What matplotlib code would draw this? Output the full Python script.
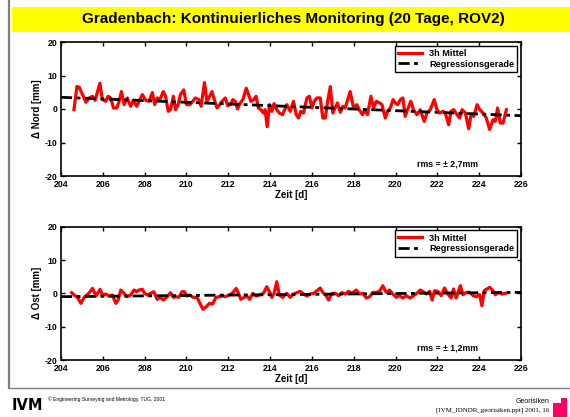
import matplotlib
matplotlib.use("Agg")
import matplotlib.pyplot as plt
from matplotlib.patches import Rectangle
from matplotlib.lines import Line2D

plt.rcParams['font.family'] = ['Liberation Sans', 'DejaVu Sans']
plt.rcParams['font.weight'] = 'bold'
plt.rcParams['axes.unicode_minus'] = False

# ---------------- data ----------------
nord_days = [204.62, 204.76, 204.87, 205.03, 205.19, 205.35, 205.51, 205.63, 205.86, 205.98,
             206.14, 206.25, 206.38, 206.51, 206.67, 206.78, 206.89, 207.02, 207.17, 207.33,
             207.46, 207.62, 207.73, 207.89, 208.05, 208.21, 208.37, 208.48, 208.60, 208.73,
             208.89, 209.0, 209.13, 209.24, 209.37, 209.48, 209.60, 209.71, 209.87, 210.0,
             210.16, 210.30, 210.43, 210.59, 210.70, 210.86, 210.98, 211.11, 211.22, 211.33,
             211.46, 211.59, 211.70, 211.86, 211.97, 212.10, 212.22, 212.33, 212.44, 212.57,
             212.70, 212.86, 212.97, 213.08, 213.21, 213.33, 213.44, 213.56, 213.68, 213.76,
             213.86, 213.97, 214.08, 214.19, 214.32, 214.44, 214.60,
             214.64, 214.80, 214.96, 215.12, 215.25, 215.36, 215.47, 215.60, 215.76, 215.88,
             216.0, 216.11, 216.24, 216.40, 216.52, 216.64, 216.75, 216.88, 217.0, 217.11,
             217.22, 217.36, 217.48, 217.59, 217.83, 217.99, 218.15, 218.26, 218.42, 218.53,
             218.66, 218.82, 218.95, 219.08, 219.24, 219.35, 219.51, 219.62, 219.75, 219.88,
             219.99, 220.10, 220.23, 220.35, 220.46, 220.57, 220.73, 220.86, 221.02, 221.18,
             221.37, 221.50, 221.66, 221.85, 221.98, 222.11, 222.27, 222.38, 222.54, 222.65,
             222.78, 222.94, 223.07, 223.18, 223.34, 223.50, 223.61, 223.74, 223.90, 224.03,
             224.18, 224.34, 224.50, 224.66, 224.77, 224.88, 225.01, 225.14, 225.30]
nord_vals = [-0.2, 6.7, 6.5, 4.3, 2.0, 3.3, 3.8, 2.6, 7.7, 2.8,
             2.3, 3.8, 3.3, 0.3, 0.3, 2.3, 5.2, 1.3, 3.3, 0.8,
             2.6, 0.8, 2.3, 4.3, 2.6, 2.3, 4.9, 1.3, 3.3, 2.8,
             5.2, 3.8, -0.7, -0.2, 3.8, -0.2, 1.3, 4.3, 5.7, 1.3,
             1.3, 2.3, 3.3, 2.8, 0.8, 7.9, 2.3, 3.8, 5.2, 2.8,
             0.3, 1.3, 2.3, 3.3, 1.0, 1.3, 2.8, 2.3, 0.0, 1.8,
             2.8, 6.2, 4.3, 2.3, 2.8, 3.8, 0.3, -0.2, -1.2, -0.2,
             -5.3, 1.3, -0.7, 1.6, -0.2, -1.2, -1.7,
             -1.0, 1.3, -0.7, 2.3, -1.7, -2.7, -0.7, -1.2, 3.3, 3.8,
             0.3, 2.3, 3.3, 3.3, -2.7, -2.7, 2.3, 6.7, -1.2, 0.3,
             1.8, -1.0, 0.8, 0.3, 5.2, 0.3, 1.3, -0.2, -1.7, -0.2,
             -1.7, 3.8, 0.3, 2.3, 1.8, 1.3, -2.7, -0.7, 0.3, 2.8,
             1.8, 1.3, 2.8, 3.3, -2.2, -0.2, 2.3, -0.2, -1.7, -0.2,
             -3.7, -1.2, -0.2, 2.8, -0.2, -1.2, -0.7, -1.2, -4.7, -0.7,
             -0.2, -1.7, -2.7, -0.2, -1.2, -5.9, -1.7, -2.2, 1.3, -0.2,
             -1.2, -2.7, -6.1, -3.2, -3.7, 0.3, -4.2, -4.2, -0.2]

ost_days = [204.51, 204.63, 204.79, 204.95, 205.11, 205.24, 205.35, 205.51, 205.67, 205.87,
            205.98, 206.14, 206.30, 206.46, 206.62, 206.73, 206.86, 207.02, 207.14, 207.33,
            207.49, 207.62, 207.73, 207.89, 208.0, 208.13, 208.29, 208.44, 208.60, 208.73,
            208.89, 209.08, 209.24, 209.37, 209.52, 209.63, 209.79, 209.90, 210.03, 210.16,
            210.32, 210.51, 210.63, 210.79, 210.95, 211.10, 211.25, 211.41, 211.56, 211.71,
            211.87, 212.03, 212.19, 212.38, 212.49, 212.60, 212.76, 212.89, 213.02, 213.17,
            213.33, 213.49, 213.68, 213.84, 213.97, 214.08, 214.19, 214.32, 214.44,
            214.60, 214.80, 214.96, 215.12, 215.28, 215.44, 215.60, 215.76, 215.92,
            216.08, 216.24, 216.40, 216.52, 216.68, 216.80, 216.96, 217.12, 217.28, 217.44,
            217.59, 217.75, 217.91, 218.12, 218.28, 218.44, 218.60, 218.76, 218.92, 219.10,
            219.26, 219.39, 219.55, 219.71, 219.87, 220.03, 220.19, 220.35, 220.51, 220.70,
            220.86, 221.02, 221.18, 221.31, 221.47, 221.63, 221.75, 221.86, 222.02, 222.18,
            222.34, 222.50, 222.66, 222.77, 222.90, 223.10, 223.23, 223.39, 223.55, 223.71,
            223.87, 224.02, 224.13, 224.24, 224.37, 224.50, 224.66, 224.77, 224.93, 225.09,
            225.25]
ost_vals = [0.2, -0.5, -1.2, -3.0, -1.2, -0.5, 0.2, 1.5, -0.8, 1.2,
            -0.5, -0.2, -0.8, -0.5, -3.0, -2.0, 1.0, 0.0, -1.0, -0.5,
            1.0, 0.5, 1.0, 1.2, 0.0, -0.5, 0.0, 0.5, -1.8, -1.2,
            -2.0, -1.0, 0.2, -1.2, -1.0, -1.2, 0.5, 0.5, -0.8, -0.5,
            -1.2, -1.2, -2.8, -4.8, -4.0, -3.0, -3.2, -1.2, -1.0, -0.8,
            -1.0, -0.5, 0.0, 1.5, 0.0, -1.8, -1.2, -0.8, -1.8, 0.0,
            -0.8, -0.5, 0.0, 2.0, 0.5, -1.2, 0.0, 3.5, -0.5,
            -1.2, 0.0, -1.2, -0.2, 0.2, 0.6, -0.2, -0.8, -0.2,
            0.0, 0.8, 1.6, 0.3, -0.7, -2.0, 0.0, 0.0, -0.7, 0.2,
            -0.2, 0.6, 0.0, 1.0, -0.2, 0.0, -1.4, -1.0, 0.3, 0.3,
            0.8, 2.3, 0.3, 1.0, -0.2, -1.2, -0.7, -1.4, -0.7, -1.4,
            -0.7, 0.0, 1.0, 0.6, -0.2, 0.6, -2.0, 0.8, 0.6, -0.7,
            1.6, -0.2, -1.4, 1.3, -1.4, 2.3, -0.4, 0.3, 0.3, -0.7,
            -1.0, -0.4, -3.7, 0.8, 1.3, 1.8, 0.8, -0.4, 0.3, -0.2,
            0.0]

reg_days = [204.0, 226.0]
nord_reg = [3.5, -2.0]
ost_reg = [-1.0, 0.3]

x_ticks = [204, 206, 208, 210, 212, 214, 216, 218, 220, 222, 224, 226]
y_ticks = [-20, -10, 0, 10, 20]

title = "Gradenbach: Kontinuierliches Monitoring (20 Tage, ROV2)"
legend_labels = ["3h Mittel", "Regressionsgerade"]
panels = [
    (nord_days, nord_vals, nord_reg, "\u0394 Nord [mm]", "rms = \u00b1 2,7mm"),
    (ost_days, ost_vals, ost_reg, "\u0394 Ost [mm]", "rms = \u00b1 1,2mm"),
]

# ---------------- figure ----------------
W, H = 570, 417
fig = plt.figure(figsize=(W / 100, H / 100), dpi=100)
fig.patch.set_facecolor('white')

def px(x, y):
    return x / W, 1 - y / H

# slide frame
fig.add_artist(Line2D([9 / W, 9 / W], [1, 1 - 388 / H], transform=fig.transFigure,
                      color='#7f7f7f', lw=1.6))
fig.add_artist(Line2D([9 / W, 1], [1 - 388 / H, 1 - 388 / H], transform=fig.transFigure,
                      color='#7f7f7f', lw=1.0))
# title banner
fig.add_artist(Rectangle(px(12, 32), (W - 12) / W, 25 / H, transform=fig.transFigure,
                         facecolor='#ffff00', edgecolor='none'))
fig.text(293 / W, 1 - 19.5 / H, title, ha='center', va='center', fontsize=11,
         fontweight='bold', color='black')

axes_boxes = [(61, 42, 521, 176), (61, 226.7, 521, 360)]
reg_style = (0, (4, 1.6, 1.4, 1.6))

for (days, vals, reg, ylabel, rms), (x0, y0, x1, y1) in zip(panels, axes_boxes):
    ax = fig.add_axes([x0 / W, 1 - y1 / H, (x1 - x0) / W, (y1 - y0) / H])
    ax.plot(days, vals, color='#ff0000', lw=2.3, solid_joinstyle='round', label=legend_labels[0])
    ax.plot(reg_days, reg, color='black', lw=2.0, linestyle=reg_style, label=legend_labels[1])
    ax.set_xlim(204, 226)
    ax.set_ylim(-20, 20)
    ax.set_xticks(x_ticks)
    ax.set_yticks(y_ticks)
    ax.tick_params(direction='in', length=3, width=1.0, top=True, right=True,
                   labelsize=6.3)
    ax.tick_params(axis='x', pad=3.2)
    ax.tick_params(axis='y', pad=2.5)
    for lab in ax.get_xticklabels() + ax.get_yticklabels():
        lab.set_fontweight('bold')
    for s in ax.spines.values():
        s.set_linewidth(1.2)
    ax.set_xlabel("Zeit [d]", fontsize=7, fontweight='bold', labelpad=0.5)
    ax.set_ylabel(ylabel, fontsize=7, fontweight='bold', labelpad=2)
    leg = ax.legend(loc='upper right', bbox_to_anchor=(0.992, 0.973), borderaxespad=0,
                    fancybox=False, edgecolor='black', framealpha=1, handlelength=2.6,
                    handletextpad=0.8, borderpad=0.35, labelspacing=0.2,
                    prop={'size': 6.6, 'weight': 'bold'})
    leg.get_frame().set_linewidth(1.0)
    ax.text(0.907, 0.09, rms, transform=ax.transAxes, ha='right', va='center',
            fontsize=6.3, fontweight='bold')

# footer
fig.text(12 / W, 1 - 405 / H, "IVM", fontsize=10.5, fontweight='heavy', color='black',
         ha='left', va='center', family=['DejaVu Sans'])
fig.text(48 / W, 1 - 399 / H, "\u00a9 Engineering Surveying and Metrology, TUG, 2001",
         fontsize=3.6, fontweight='normal', ha='left', va='center')
fig.text(549 / W, 1 - 401.5 / H, "Georisiken", fontsize=5, fontweight='normal',
         ha='right', va='center')
fig.text(549 / W, 1 - 410.5 / H, "[IVM_IDNDR_georisiken.ppt] 2001, 16", fontsize=5,
         fontweight='normal', ha='right', va='center', family=['Liberation Serif'])
fig.add_artist(Rectangle(px(553, 417), 14 / W, 14 / H, transform=fig.transFigure,
                         facecolor='#ff0066', edgecolor='none'))
fig.add_artist(Rectangle(px(561, 404), 6 / W, 6 / H, transform=fig.transFigure,
                         facecolor='#ff0066', edgecolor='none'))

fig.savefig("out.png", dpi=100, facecolor='white')
